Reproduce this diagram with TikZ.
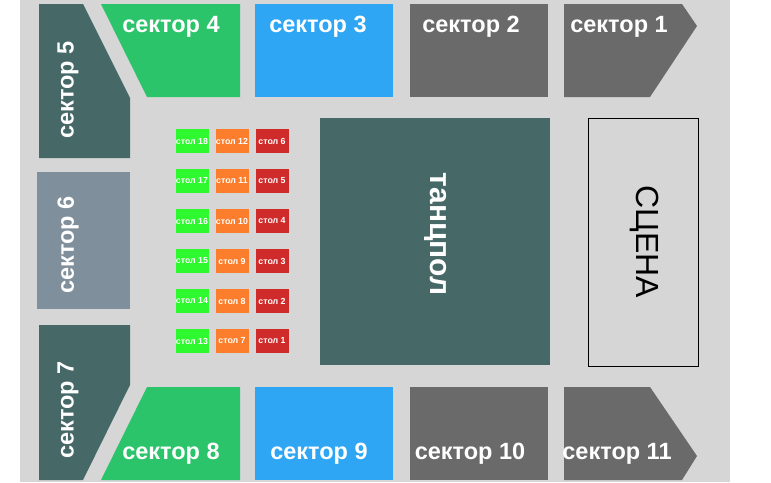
\documentclass[tikz,border=0pt]{standalone}
\usepackage{fontspec}
\setmainfont{Liberation Sans}
\definecolor{hallgray}{HTML}{D6D6D6}
\definecolor{darkteal}{HTML}{466968}
\definecolor{secgreen}{HTML}{2CC46A}
\definecolor{secblue}{HTML}{2EA6F4}
\definecolor{secgray}{HTML}{6A6A6A}
\definecolor{secslate}{HTML}{7F8F9B}
\definecolor{tgreen}{HTML}{2EF92E}
\definecolor{torange}{HTML}{FC7E2C}
\definecolor{tred}{HTML}{CF2B2B}
\tikzset{
  seclabel/.style={text=white, font=\fontsize{23.5}{28}\selectfont\bfseries},
  tablebox/.style={minimum width=33pt, minimum height=24pt, inner sep=0pt,
    text=white, font=\fontsize{8.8}{10}\selectfont\bfseries}
}
\begin{document}
\begin{tikzpicture}[x=1pt,y=-1pt]
        \useasboundingbox (0,0) rectangle (771,482);
        \fill [hallgray] (20,0) rectangle (730,482);
        % top row
        \fill [darkteal] (39,4) -- (83,4) -- (130,98) -- (130,158) -- (39,158) -- cycle;
        \fill [secgreen] (101,4) -- (240,4) -- (240,97) -- (147,97) -- cycle;
        \fill [secblue] (255,4) rectangle (393,97);
        \fill [secgray] (410,4) rectangle (548,97);
        \fill [secgray] (564,4) -- (682,4) -- (697,26) -- (650,97) -- (564,97) -- cycle;
        % left side
        \fill [secslate] (37,172) rectangle (130,309);
        % bottom row
        \fill [darkteal] (39,325) -- (130,325) -- (130,385) -- (83,480) -- (39,480) -- cycle;
        \fill [secgreen] (147,387) -- (240,387) -- (240,480) -- (101,480) -- cycle;
        \fill [secblue] (255,387) rectangle (393,480);
        \fill [secgray] (410,387) rectangle (548,480);
        \fill [secgray] (564,387) -- (650,387) -- (697,456) -- (682,480) -- (564,480) -- cycle;
        % floor and stage
        \fill [darkteal] (320,118) rectangle (550,365);
        \draw [black, line width=1pt] (588,118) rectangle (698,366);

        \node [seclabel] (s4) at (171,27) {сектор 4};
        \node [seclabel] (s3) at (318,27) {сектор 3};
        \node [seclabel] (s2) at (471,27) {сектор 2};
        \node [seclabel] (s1) at (619,27) {сектор 1};
        \node [seclabel, rotate=90] (s5) at (68,90) {сектор 5};
        \node [seclabel, rotate=90] (s6) at (68,245) {сектор 6};
        \node [seclabel, rotate=90] (s7) at (68,410) {сектор 7};
        \node [seclabel] (s8) at (171,454) {сектор 8};
        \node [seclabel] (s9) at (319,454) {сектор 9};
        \node [seclabel] (s10) at (470,454) {сектор 10};
        \node [seclabel] (s11) at (617,454) {сектор 11};
        \node [seclabel, rotate=-90, font=\fontsize{30}{36}\selectfont\bfseries] (floor) at (436,234) {танцпол};
        \node [rotate=-90, font=\fontsize{32}{38}\selectfont] (stage) at (644,242) {СЦЕНА};

        \foreach \r in {1,...,6} {
          \pgfmathtruncatemacro{\a}{7-\r}
          \pgfmathtruncatemacro{\b}{13-\r}
          \pgfmathtruncatemacro{\c}{19-\r}
          \node [tablebox, fill=tgreen] (t\c) at (192,101+40*\r) {стол \c};
          \node [tablebox, fill=torange] (t\b) at (232,101+40*\r) {стол \b};
          \node [tablebox, fill=tred] (t\a) at (272,101+40*\r) {стол \a};
        }
\end{tikzpicture}
\end{document}
